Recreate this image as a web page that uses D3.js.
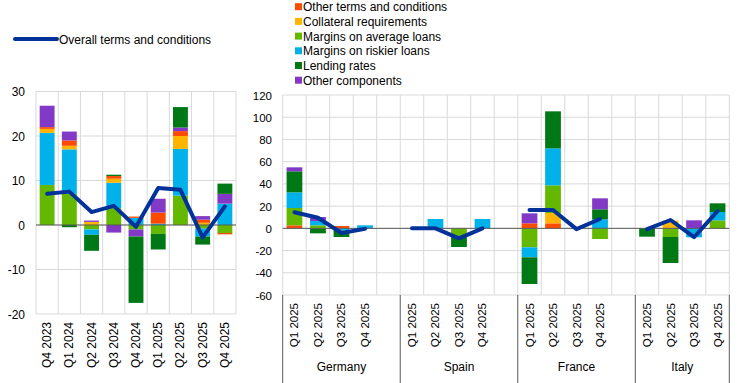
<!DOCTYPE html>
<html>
<head>
<meta charset="utf-8">
<script src="https://cdn.jsdelivr.net/npm/d3@7"></script>
<style>
  body { margin: 0; background: #fff; }
  svg { font-family: Arial, "Liberation Sans", sans-serif; }
</style>
</head>
<body>
<script>
// left panel: euro area over time
var leftCats = ["Q4 2023","Q1 2024","Q2 2024","Q3 2024","Q4 2024","Q1 2025","Q2 2025","Q3 2025","Q4 2025"];
var leftOtherTerms  = [0.4, 1.2, 0, 0.6, 0.3, 2.5, 1.1, 0.7, -0.3];
var leftCollateral  = [0.9, 0.8, 0.7, 0.9, 0, 0, 2.9, 0.5, 0];
var leftMarginsAvg  = [9.0, 7.0, -1.0, 3.8, -1.0, -2.0, 6.6, -0.8, -1.8];
var leftMarginsRisk = [11.7, 10.0, -1.2, 5.7, 1.6, 0.3, 10.5, -1.8, 4.8];
var leftLending     = [0, -0.5, -3.6, 0.3, -14.9, -3.5, 4.6, -1.8, 2.3];
var leftOtherComp   = [4.8, 2.0, 0.3, -1.7, -1.6, 3.1, 0.8, 0.8, 2.2];
var leftOverall     = [7.0, 7.5, 2.9, 4.3, -0.4, 8.3, 7.9, -2.8, 4.2];
var leftTicks = [-20, -10, 0, 10, 20, 30];

// right panel: countries
var countries = ["Germany","Spain","France","Italy"];
var quarters = ["Q1 2025","Q2 2025","Q3 2025","Q4 2025"];
// order: Germany Q1..Q4, Spain Q1..Q4, France Q1..Q4, Italy Q1..Q4
var cOtherTerms  = [2.7, 0, 2.1, 0,   0, 0, 0, 0,      4.5, 4.5, 0, 0,     0, 0, 0, 0];
var cCollateral  = [0, 0, 0, 0,       0, 0, 0, 0,      0, 9.3, 0, 0,       0, 6.9, 0, 0];
var cMarginsAvg  = [15.6, 2.7, 0, 0,  0, 0, -7.5, 0,   -17.1, 24.9, 0, -9.6, 0, -7.8, 0, 7.2];
var cMarginsRisk = [14.1, 3.9, -2.0, 2.7, 0, 8.4, 0, 8.4, -9.0, 33.3, 0, 8.1, 0, 0, -8.1, 7.5];
var cLending     = [18.9, -4.5, -5.8, 0,  0, 0, -9.3, 0, -24.0, 33.3, 0, 9.0, -7.5, -23.4, 0, 7.8];
var cOtherComp   = [3.6, 3.6, 0, 0,   0, 0, 0, 0,      9.0, 0, 0, 9.9,     0, 0, 7.2, 0];
var cOverall     = [14.5, 9.5, -4.2, -0.5, 0, 0, -9.0, 0, 16.5, 16.5, -0.7, 8.4, -0.7, 7.5, -8.0, 15.5];
var rightTicks = [-60, -40, -20, 0, 20, 40, 60, 80, 100, 120];

var legendNames = ["Other terms and conditions","Collateral requirements","Margins on average loans","Margins on riskier loans","Lending rates","Other components"];
var keys = ["other","coll","avg","risk","lend","comp"];
var colors = {other:"#FF4B00", coll:"#FFB400", avg:"#65B800", risk:"#00B1EA", lend:"#007816", comp:"#8139C6"};
var lineColor = "#003299";

var svg = d3.select("body").append("svg").attr("width", 743).attr("height", 383);

// legend
svg.append("line").attr("x1", 15).attr("x2", 57).attr("y1", 39).attr("y2", 39)
  .attr("stroke", lineColor).attr("stroke-width", 4).attr("stroke-linecap", "round");
svg.append("text").attr("x", 59).attr("y", 43.5).attr("font-size", 12).attr("fill", "#000")
  .text("Overall terms and conditions");
legendNames.forEach(function(n, i) {
  var y = 6.7 + i * 14.7;
  svg.append("rect").attr("x", 295).attr("y", y - 3.5).attr("width", 7).attr("height", 7).attr("fill", colors[keys[i]]);
  svg.append("text").attr("x", 303).attr("y", y + 4.5).attr("font-size", 12).attr("fill", "#000").text(n);
});

function drawPanel(opt) {
  var g = svg.append("g");
  var x = d3.scaleBand().domain(opt.slots).range(opt.xr).padding(0);
  var y = d3.scaleLinear().domain(opt.yd).range(opt.yr);
  var bw = x.bandwidth() * 0.67;

  // horizontal gridlines
  g.selectAll(".hg").data(opt.ticks).enter().append("line")
    .attr("x1", opt.xr[0]).attr("x2", opt.xr[1])
    .attr("y1", function(d){ return y(d); }).attr("y2", function(d){ return y(d); })
    .attr("stroke", "#d9d9d9").attr("stroke-width", 1);
  // vertical gridlines
  var bounds = opt.slots.map(function(s){ return x(s); }).concat([opt.xr[1]]);
  g.selectAll(".vg").data(bounds).enter().append("line")
    .attr("x1", function(d){ return d; }).attr("x2", function(d){ return d; })
    .attr("y1", opt.yr[1]).attr("y2", opt.yr[0])
    .attr("stroke", "#d9d9d9").attr("stroke-width", 1);
  // y labels
  g.selectAll(".yl").data(opt.ticks).enter().append("text")
    .attr("x", opt.labelX).attr("y", function(d){ return y(d) + 4.5; })
    .attr("text-anchor", "end").attr("font-size", opt.fs).attr("fill", "#000")
    .text(function(d){ return d; });

  // stacked bars
  var stack = d3.stack().keys(opt.order).offset(d3.stackOffsetDiverging);
  var series = stack(opt.rows);
  g.selectAll(".s").data(series).enter().append("g")
    .attr("fill", function(d){ return colors[d.key]; })
    .selectAll("rect").data(function(d){ return d; }).enter().append("rect")
    .attr("x", function(d){ return x(d.data.slot) + (x.bandwidth() - bw) / 2; })
    .attr("width", bw)
    .attr("y", function(d){ return y(Math.max(d[0], d[1])); })
    .attr("height", function(d){ return Math.abs(y(d[0]) - y(d[1])); });

  // zero line
  g.append("line").attr("x1", opt.xr[0]).attr("x2", opt.xr[1])
    .attr("y1", y(0)).attr("y2", y(0)).attr("stroke", "#595959").attr("stroke-width", 1);

  // overall line(s)
  var line = d3.line()
    .x(function(d){ return x(d.slot) + x.bandwidth() / 2; })
    .y(function(d){ return y(d.overall); });
  opt.lineGroups.forEach(function(grp) {
    g.append("path").datum(grp).attr("d", line).attr("fill", "none")
      .attr("stroke", lineColor).attr("stroke-width", 4)
      .attr("stroke-linejoin", "round").attr("stroke-linecap", "round");
  });

  // x labels
  g.selectAll(".xl").data(opt.rows).enter().append("text")
    .attr("transform", function(d){ return "translate(" + (x(d.slot) + x.bandwidth() / 2 + 4) + "," + opt.xlabelTop + ") rotate(-90)"; })
    .attr("text-anchor", "end").attr("font-size", opt.fs).attr("fill", "#000")
    .text(function(d){ return d.label; });
  return {x: x, y: y};
}

// left panel rows
var leftRows = leftCats.map(function(c, i) {
  return {slot: c, label: c, other: leftOtherTerms[i], coll: leftCollateral[i], avg: leftMarginsAvg[i],
    risk: leftMarginsRisk[i], lend: leftLending[i], comp: leftOtherComp[i], overall: leftOverall[i]};
});
drawPanel({
  slots: leftCats, rows: leftRows, xr: [36, 236], yd: [-20, 30], yr: [314, 91.5],
  ticks: leftTicks, labelX: 25, fs: 12, xlabelTop: 322,
  order: ["avg","risk","coll","other","comp","lend"],
  lineGroups: [leftRows]
});

// right panel rows
var slots = [], rightRows = [], groups = [];
countries.forEach(function(c, ci) {
  var grp = [];
  quarters.forEach(function(q, qi) {
    var i = ci * 4 + qi;
    var s = c + "|" + q;
    slots.push(s);
    var r = {slot: s, label: q, other: cOtherTerms[i], coll: cCollateral[i], avg: cMarginsAvg[i],
      risk: cMarginsRisk[i], lend: cLending[i], comp: cOtherComp[i], overall: cOverall[i]};
    rightRows.push(r); grp.push(r);
  });
  groups.push(grp);
  if (ci < countries.length - 1) slots.push(c + "|gap");
});
var rp = drawPanel({
  slots: slots, rows: rightRows, xr: [282.7, 729.3], yd: [-60, 120], yr: [295, 95],
  ticks: rightTicks, labelX: 272, fs: 11.5, xlabelTop: 303,
  order: ["other","coll","avg","risk","lend","comp"],
  lineGroups: groups
});

// country group separators and names
var sepX = countries.map(function(c){ return rp.x(c + "|Q1 2025"); }).concat([729.3]);
svg.selectAll(".sep").data(sepX).enter().append("line")
  .attr("x1", function(d){ return d; }).attr("x2", function(d){ return d; })
  .attr("y1", 295).attr("y2", 383).attr("stroke", "#595959").attr("stroke-width", 1);
svg.selectAll(".cn").data(countries).enter().append("text")
  .attr("x", function(d, i){ return (sepX[i] + sepX[i + 1]) / 2; })
  .attr("y", 371).attr("text-anchor", "middle").attr("font-size", 12).attr("fill", "#000")
  .text(function(d){ return d; });
</script>
</body>
</html>
